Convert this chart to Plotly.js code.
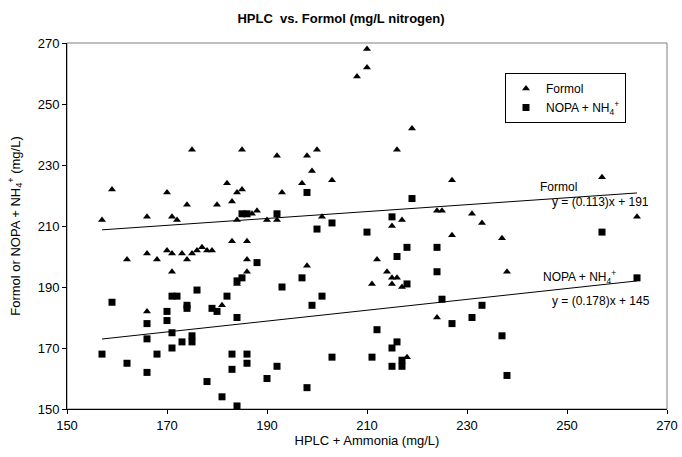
<!DOCTYPE html>
<html><head><meta charset="utf-8">
<script src="https://cdn.plot.ly/plotly-3.0.1.min.js"></script>
<style>html,body{margin:0;padding:0;background:#fff}#c{width:682px;height:457px}</style>
</head><body><div id="c"></div>
<script>
// Formol (triangles)
const formolX = [157,159,166,170,171,172,174,175,180,182,183,184,185,185,184,187,188,190,
  210,210,208,219,192,198,200,216,199,197,203,227,193,192,201,215,217,224,225,
  257,231,233,264,
  183,186,162,166,168,170,171,173,174,175,176,177,178,179,171,186,186,184,166,181,
  227,212,214,198,215,216,211,215,217,224,218,
  237,238];
const formolY = [212,222,213,221,213,212,217,235,217,224,218,221,222,235,212,214,215,212,
  268,262,259,242,233,233,235,235,228,224,225,225,221,212,213,210,212,215,215,
  226,214,211,213,
  205,205,199,201,199,202,201,201,199,201,202,203,202,202,195,199,195,191,182,184,
  207,199,195,197,193,193,191,191,190,180,167,
  206,195];
// NOPA + NH4+ (squares)
const nopaX = [185,186,198,219,192,203,215,200,210,
  159,188,184,185,176,171,172,182,174,174,170,179,180,170,184,166,171,166,175,175,173,171,157,168,183,186,162,186,183,166,178,190,181,184,
  218,224,216,224,197,218,193,201,199,225,227,231,212,216,215,203,211,217,192,215,217,198,
  257,264,233,237,238];
const nopaY = [214,214,221,219,214,211,213,209,208,
  185,198,192,193,189,187,187,187,184,183,182,183,182,179,180,178,175,173,174,172,172,170,168,168,168,168,165,165,163,162,159,160,154,151,
  203,203,200,195,193,191,190,187,184,186,178,180,176,172,170,167,167,166,164,164,164,157,
  208,193,184,174,161];
// Linear fits (slope, intercept) as given in the chart
const fitNames = ['Formol', 'NOPA + NH<sub>4</sub><sup>+</sup>'];
const fitSlope = [0.113, 0.178];
const fitIntercept = [191, 145];
const fitLabelX = [248.2, 252.4];
const fitLabelY = [222.8, 193.2];
const eqLabelY = [217.9, 185.4];

const allX = formolX.concat(nopaX);
const xmin = Math.min(...allX), xmax = Math.max(...allX);

const traces = [
  {x: formolX, y: formolY, type: 'scatter', mode: 'markers', name: 'Formol',
   marker: {symbol: 'triangle-up', size: 7, color: '#000'}},
  {x: nopaX, y: nopaY, type: 'scatter', mode: 'markers', name: 'NOPA + NH<sub>4</sub><sup>+</sup>',
   marker: {symbol: 'square', size: 7, color: '#000'}}
];
const annotations = [];
for (let i = 0; i < fitSlope.length; i++) {
  traces.push({x: [xmin, xmax], y: [fitSlope[i]*xmin + fitIntercept[i], fitSlope[i]*xmax + fitIntercept[i]],
    type: 'scatter', mode: 'lines', showlegend: false, hoverinfo: 'skip',
    line: {color: '#000', width: 1}});
  annotations.push({x: fitLabelX[i], y: fitLabelY[i], xref: 'x', yref: 'y', text: fitNames[i],
    showarrow: false, font: {size: 12, color: '#000'}});
  annotations.push({x: 256.7, y: eqLabelY[i], xref: 'x', yref: 'y',
    text: 'y = (' + fitSlope[i].toFixed(3) + ')x + ' + fitIntercept[i],
    showarrow: false, font: {size: 12, color: '#000'}});
}
const font = 'Arial, "Liberation Sans", sans-serif';
const layout = {
  width: 682, height: 457,
  margin: {l: 67, r: 15, t: 43, b: 48},
  paper_bgcolor: '#fff', plot_bgcolor: '#fff',
  font: {family: font, size: 13, color: '#000'},
  title: {text: '<b>HPLC  vs. Formol (mg/L nitrogen)</b>', x: 0.5, xref: 'container', y: 0.96, yanchor: 'middle',
          font: {size: 13, family: font, color: '#000'}},
  xaxis: {range: [150, 270], dtick: 20, tick0: 150, showgrid: false, zeroline: false,
    showline: true, linecolor: '#000', linewidth: 1, ticks: 'outside', ticklen: 4, tickcolor: '#000',
    tickfont: {size: 13}, mirror: false,
    title: {text: 'HPLC + Ammonia (mg/L)', font: {size: 13}, standoff: 4}},
  yaxis: {range: [150, 270], dtick: 20, tick0: 150, showgrid: false, zeroline: false,
    showline: true, linecolor: '#000', linewidth: 1, ticks: 'outside', ticklen: 4, tickcolor: '#000',
    tickfont: {size: 13},
    title: {text: 'Formol or NOPA + NH<sub>4</sub><sup>+</sup> (mg/L)', font: {size: 13}, standoff: 14}},
  shapes: [{type: 'rect', xref: 'paper', yref: 'paper', x0: 0, x1: 1, y0: 0, y1: 1,
    line: {color: '#808080', width: 1}, layer: 'below'}],
  legend: {x: 0.73, y: 0.918, xanchor: 'left', yanchor: 'top', bordercolor: '#000', borderwidth: 1,
    bgcolor: '#fff', font: {size: 12}, itemwidth: 30},
  annotations: annotations,
  showlegend: true
};
Plotly.newPlot('c', traces, layout, {displayModeBar: false, staticPlot: true});
</script></body></html>
